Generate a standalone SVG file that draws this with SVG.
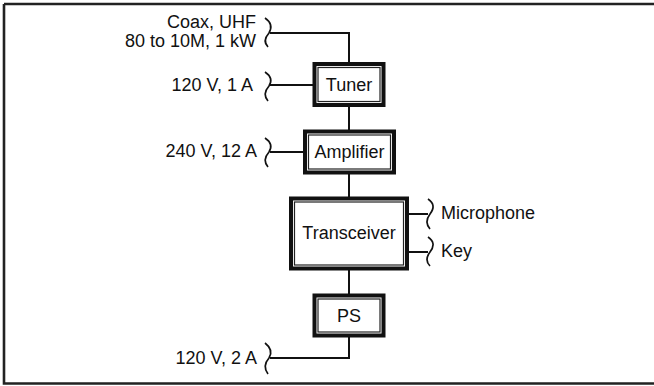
<svg xmlns="http://www.w3.org/2000/svg" width="654" height="386" viewBox="0 0 654 386">
<style>
.t{font-family:"Liberation Sans",Arial,sans-serif;font-size:18px;fill:#111}
.box{fill:#fff;stroke:#111;stroke-width:4}
.inner{fill:none;stroke:#222;stroke-width:1.2}
.ln{fill:none;stroke:#111;stroke-width:2}
.br{fill:none;stroke:#111;stroke-width:1.7}
</style>
<rect x="0" y="0" width="654" height="386" fill="#fff"/>
<path d="M4,4 H660 M4,4 V383.5 H660" fill="none" stroke="#222" stroke-width="2.6"/>
<g id="connectors">
<path class="ln" d="M270,33 H349 V63"/>
<path class="ln" d="M270,85 H314"/>
<path class="ln" d="M349,105 V131"/>
<path class="ln" d="M270,152 H305"/>
<path class="ln" d="M349,173 V198"/>
<path class="ln" d="M407,214 H428"/>
<path class="ln" d="M407,252 H428"/>
<path class="ln" d="M349,269 V295"/>
<path class="ln" d="M349,336 V358 H270"/>
<path class="br" d="M265,18 Q274,24 269,33 Q262,41 268,47"/>
<path class="br" d="M265,72 Q274,78 269,86 Q262,94 268,101"/>
<path class="br" d="M265,138 Q274,144 269,152 Q262,160 268,167"/>
<path class="br" d="M265,343 Q274,350 269,358 Q262,366 268,374"/>
<path class="br" d="M428,199 Q437,205 430,214 Q424,222 430,229"/>
<path class="br" d="M428,237 Q437,243 430,252 Q424,260 430,266"/>
</g>
<g id="label-coax">
<text class="t" x="256" y="28" text-anchor="end">Coax, UHF</text>
<text class="t" x="256" y="47" text-anchor="end">80 to 10M, 1 kW</text>
</g>
<g id="label-tuner-power"><text class="t" x="253" y="91" text-anchor="end">120 V, 1 A</text></g>
<g id="label-amp-power"><text class="t" x="257" y="157" text-anchor="end">240 V, 12 A</text></g>
<g id="label-ps-power"><text class="t" x="257" y="364" text-anchor="end">120 V, 2 A</text></g>
<g id="label-mic"><text class="t" x="441" y="219">Microphone</text></g>
<g id="label-key"><text class="t" x="441" y="257">Key</text></g>
<g id="tuner">
<rect class="box" x="314.5" y="64" width="69" height="41"/>
<rect class="inner" x="318" y="67.5" width="62" height="34"/>
<text class="t" x="349" y="91" text-anchor="middle">Tuner</text>
</g>
<g id="amplifier">
<rect class="box" x="305" y="131.5" width="89" height="41"/>
<rect class="inner" x="308.5" y="135" width="82" height="34"/>
<text class="t" x="349.5" y="158" text-anchor="middle">Amplifier</text>
</g>
<g id="transceiver">
<rect class="box" x="291" y="198.5" width="116" height="70"/>
<rect class="inner" x="294.5" y="202" width="109" height="63"/>
<text class="t" x="349" y="239" text-anchor="middle">Transceiver</text>
</g>
<g id="ps">
<rect class="box" x="314.5" y="295.5" width="69" height="40"/>
<rect class="inner" x="318" y="299" width="62" height="33"/>
<text class="t" x="349" y="322" text-anchor="middle">PS</text>
</g>
</svg>
